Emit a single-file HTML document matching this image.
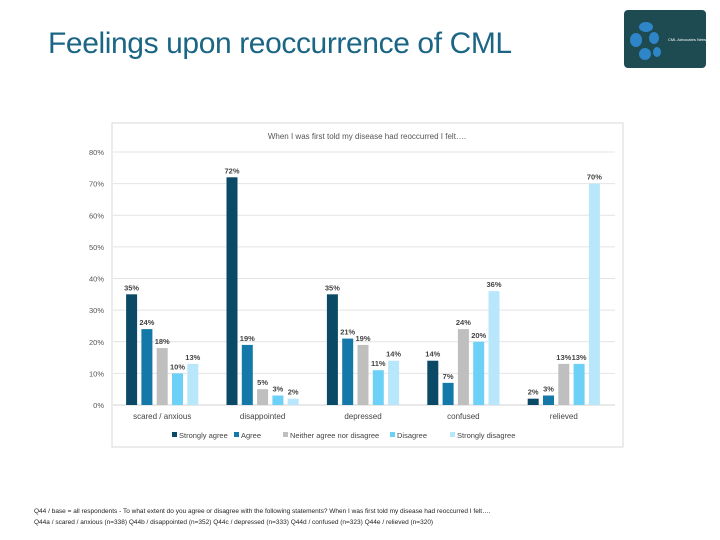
<!DOCTYPE html>
<html><head><meta charset="utf-8"><style>
body{margin:0;width:720px;height:540px;background:#fff;font-family:"Liberation Sans",sans-serif;overflow:hidden;position:relative}
#title{position:absolute;left:48px;top:27px;font-size:30px;color:#1b6585;letter-spacing:-0.4px;white-space:nowrap}
#logo{position:absolute;left:624px;top:10px;width:82px;height:58px;background:#1e4a52;border-radius:4px}
.foot{position:absolute;left:34px;font-size:6.5px;color:#222;white-space:nowrap}
</style></head><body>
<div id="title">Feelings upon reoccurrence of CML</div>
<div id="logo">
<svg width="82" height="58"><g fill="#2e86c8"><ellipse cx="22" cy="17" rx="7" ry="5"/><ellipse cx="12" cy="30" rx="6" ry="7"/><ellipse cx="21" cy="44" rx="6" ry="6"/><ellipse cx="30" cy="28" rx="5" ry="6"/><ellipse cx="33" cy="42" rx="4" ry="5"/></g><text x="44" y="31" font-size="4" fill="#fff">CML Advocates Network</text></svg>
</div>
<svg id="chart" width="720" height="540" style="position:absolute;left:0;top:0">
<rect x="112" y="123" width="511" height="324" fill="none" stroke="#d9d9d9"/>
<text x="367" y="139" font-size="8" fill="#555" text-anchor="middle">When I was first told my disease had reoccurred I felt….</text>
<g id="grid"></g><g id="bars"></g><g id="legend"></g>
</svg>
<div class="foot" style="top:508px">Q44 / base = all respondents - To what extent do you agree or disagree with the following statements? When I was first told my disease had reoccurred I felt….</div>
<div class="foot" style="top:519px">Q44a / scared / anxious (n=338) Q44b / disappointed (n=352) Q44c / depressed (n=333) Q44d / confused (n=323) Q44e / relieved (n=320)</div>
<script>
const categories=["scared / anxious","disappointed","depressed","confused","relieved"];
const seriesNames=["Strongly agree","Agree","Neither agree nor disagree","Disagree","Strongly disagree"];
const stronglyAgree=[35,72,35,14,2];
const agree=[24,19,21,7,3];
const neither=[18,5,19,24,13];
const disagree=[10,3,11,20,13];
const stronglyDisagree=[13,2,14,36,70];
const yTicks=[0,10,20,30,40,50,60,70,80];
const series=[stronglyAgree,agree,neither,disagree,stronglyDisagree];
const colors=["#0b4a66","#1478a8","#bfbfbf","#6dd0f7","#b8e6fb"];
const NS="http://www.w3.org/2000/svg";
const x0=113,x1=615,yBase=405,yTop=152,yMax=80;
const y=v=>yBase-(v/yMax)*(yBase-yTop);
const band=(x1-x0)/categories.length;
function mk(t,a,p,txt){const e=document.createElementNS(NS,t);for(const k in a)e.setAttribute(k,a[k]);if(txt!==undefined)e.textContent=txt;p.appendChild(e);return e;}
const grid=document.getElementById('grid'),bars=document.getElementById('bars'),leg=document.getElementById('legend');
yTicks.forEach(t=>{
 const l=mk('line',{x1:x0,x2:x1,y1:y(t),y2:y(t),stroke:t===0?'#d0d0d0':'#e4e4e4'},grid);
 
 
 const tx=mk('text',{x:104,y:y(t)+3,'font-size':7.5,fill:'#555','text-anchor':'end'},grid,t+'%');
 
 
});
const bw=11,step=15.3;
categories.forEach((c,i)=>{
 const cx=x0+band*i+band/2-1;
 const lb=mk('text',{x:cx,y:419,'font-size':8,fill:'#444','text-anchor':'middle'},grid,c);
 
 
 series.forEach((s,j)=>{
  const bx=cx+(j-2)*step-bw/2;
  const r=mk('rect',{x:bx,y:y(s[i]),width:bw,height:yBase-y(s[i]),fill:colors[j]},bars);
  
  
  const v=mk('text',{x:bx+bw/2,y:y(s[i])-4,'font-size':7.5,'font-weight':'bold',fill:'#444','text-anchor':'middle'},bars,s[i]+'%');
  
  
 });
});
let lx=172;const lw=[62,49,107,60,80];
seriesNames.forEach((n,j)=>{
 const r=mk('rect',{x:lx,y:432,width:5,height:5,fill:colors[j]},leg);
 
 
 const t=mk('text',{x:lx+7,y:438,'font-size':7.5,fill:'#444'},leg,n);
 
 
 lx+=lw[j];
});
</script>
</body></html>
